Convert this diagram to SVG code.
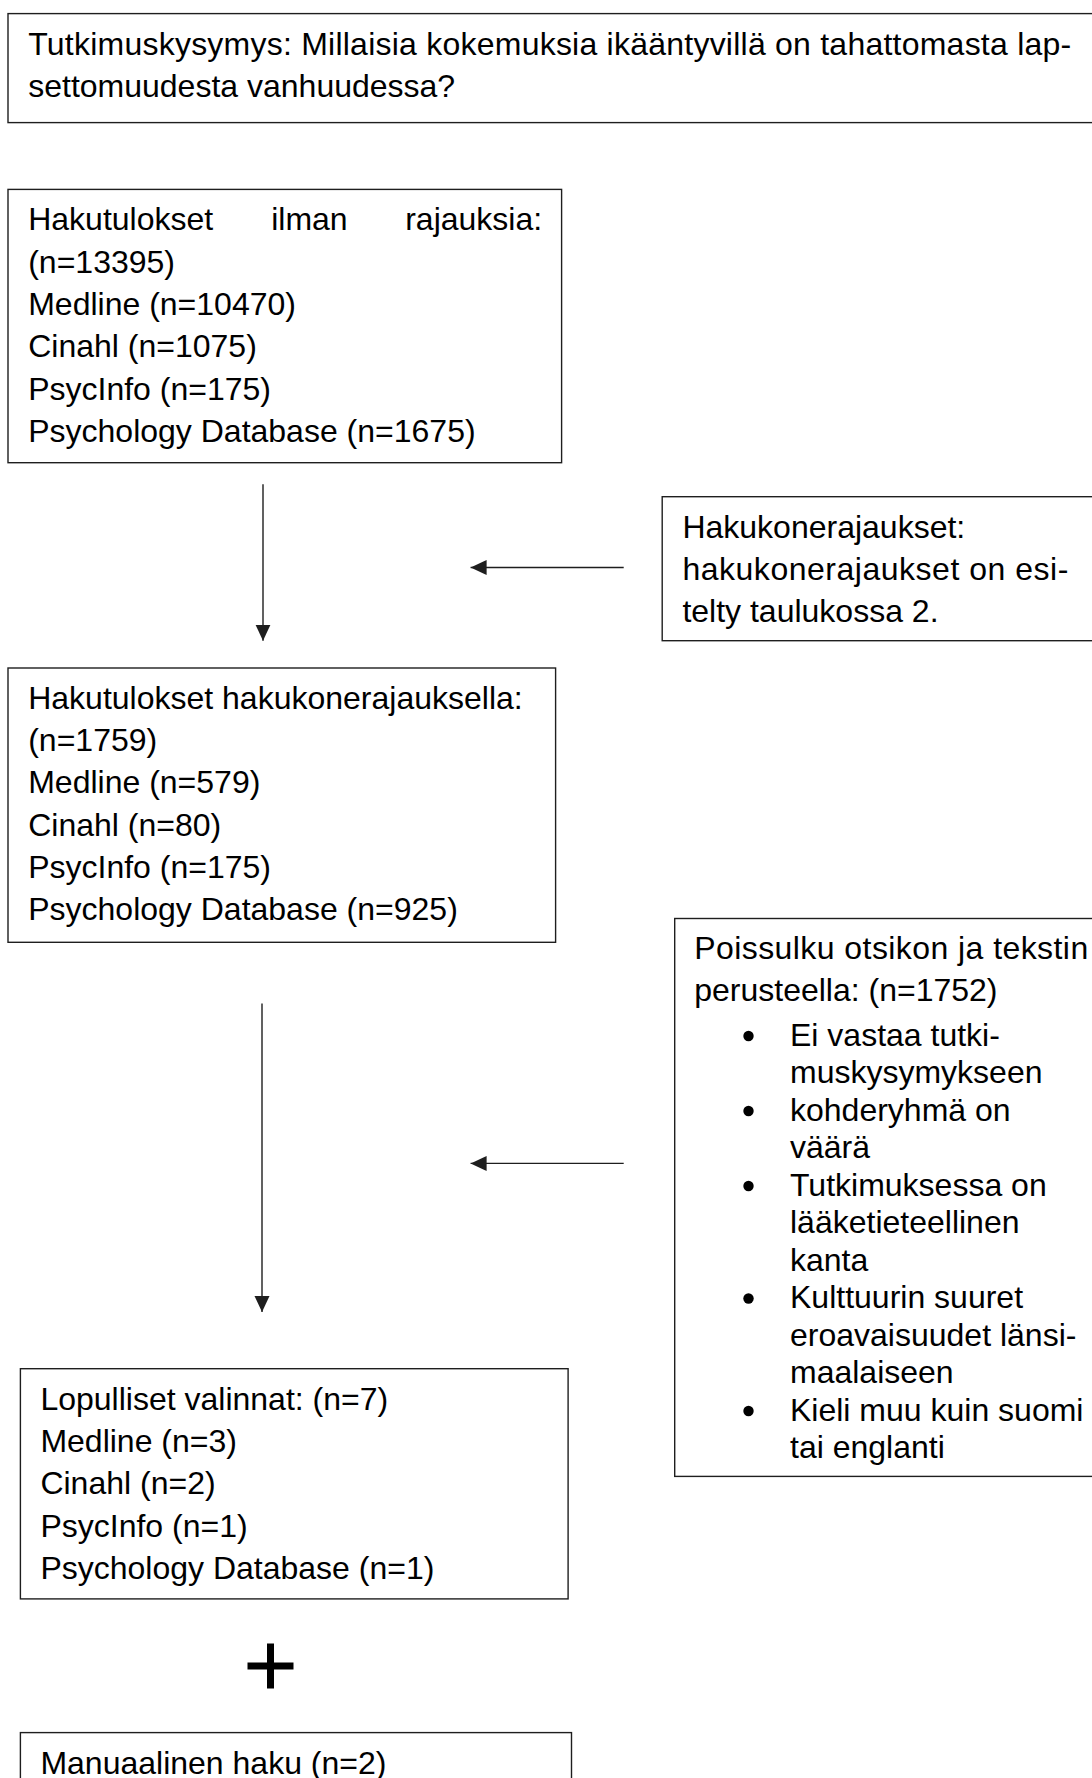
<svg xmlns="http://www.w3.org/2000/svg" width="1092" height="1778" viewBox="0 0 1092 1778">
<style>
  .box { fill: #ffffff; stroke: #1e1e1e; stroke-width: 1.4; }
  .t { font-family: "Liberation Sans", Arial, sans-serif; font-size: 32px; fill: #000000; }
  .conn { stroke: #1e1e1e; stroke-width: 1.4; fill: none; }
</style>
<defs>
  <marker id="ah" markerUnits="userSpaceOnUse" markerWidth="18" markerHeight="16" refX="16" refY="7.5" orient="auto">
    <path d="M0,0 L16,7.5 L0,15 Z" fill="#1e1e1e"/>
  </marker>
</defs>
<rect width="1092" height="1778" fill="#ffffff"/>

<g id="question">
  <rect class="box" x="8" y="13.6" width="1100" height="109"/>
  <text class="t" x="28.2" y="54.6" textLength="1043" lengthAdjust="spacing">Tutkimuskysymys: Millaisia kokemuksia ikääntyvillä on tahattomasta lap-</text>
  <text class="t" x="28.2" y="96.5">settomuudesta vanhuudessa?</text>
</g>

<g id="results-unrestricted">
  <rect class="box" x="8" y="189.4" width="553.6" height="273.3"/>
  <text class="t" y="230.3"><tspan x="28.2">Hakutulokset</tspan><tspan x="271.2">ilman</tspan><tspan x="405.2">rajauksia:</tspan></text>
  <text class="t" x="28.2" y="272.6">(n=13395)</text>
  <text class="t" x="28.2" y="314.9">Medline (n=10470)</text>
  <text class="t" x="28.2" y="357.2">Cinahl (n=1075)</text>
  <text class="t" x="28.2" y="399.5">PsycInfo (n=175)</text>
  <text class="t" x="28.2" y="441.8">Psychology Database (n=1675)</text>
</g>

<g id="engine-limits">
  <rect class="box" x="662.2" y="496.7" width="440" height="144"/>
  <text class="t" x="682.4" y="537.7">Hakukonerajaukset:</text>
  <text class="t" x="682.4" y="580" textLength="386" lengthAdjust="spacing">hakukonerajaukset on esi-</text>
  <text class="t" x="682.4" y="622.3">telty taulukossa 2.</text>
</g>

<g id="results-limited">
  <rect class="box" x="8" y="668" width="547.6" height="274.3"/>
  <text class="t" x="28.2" y="708.8">Hakutulokset hakukonerajauksella:</text>
  <text class="t" x="28.2" y="751.1">(n=1759)</text>
  <text class="t" x="28.2" y="793.4">Medline (n=579)</text>
  <text class="t" x="28.2" y="835.7">Cinahl (n=80)</text>
  <text class="t" x="28.2" y="878">PsycInfo (n=175)</text>
  <text class="t" x="28.2" y="920.3">Psychology Database (n=925)</text>
</g>

<g id="exclusion">
  <rect class="box" x="674.7" y="918.5" width="430" height="557.9"/>
  <text class="t" x="694.2" y="958.5" textLength="394" lengthAdjust="spacing">Poissulku otsikon ja tekstin</text>
  <text class="t" x="694.2" y="1000.5">perusteella: (n=1752)</text>
  <circle cx="748.5" cy="1036" r="5.2" fill="#000000"/>
  <text class="t" x="790" y="1045.5">Ei vastaa tutki-</text>
  <text class="t" x="790" y="1083">muskysymykseen</text>
  <circle cx="748.5" cy="1111" r="5.2" fill="#000000"/>
  <text class="t" x="790" y="1120.5">kohderyhmä on</text>
  <text class="t" x="790" y="1158">väärä</text>
  <circle cx="748.5" cy="1186" r="5.2" fill="#000000"/>
  <text class="t" x="790" y="1195.5">Tutkimuksessa on</text>
  <text class="t" x="790" y="1233">lääketieteellinen</text>
  <text class="t" x="790" y="1270.5">kanta</text>
  <circle cx="748.5" cy="1298.5" r="5.2" fill="#000000"/>
  <text class="t" x="790" y="1308">Kulttuurin suuret</text>
  <text class="t" x="790" y="1345.5">eroavaisuudet länsi-</text>
  <text class="t" x="790" y="1383">maalaiseen</text>
  <circle cx="748.5" cy="1411" r="5.2" fill="#000000"/>
  <text class="t" x="790" y="1420.5">Kieli muu kuin suomi</text>
  <text class="t" x="790" y="1458">tai englanti</text>
</g>

<g id="final-selection">
  <rect class="box" x="20.4" y="1368.7" width="547.7" height="230.2"/>
  <text class="t" x="40.4" y="1409.7">Lopulliset valinnat: (n=7)</text>
  <text class="t" x="40.4" y="1452">Medline (n=3)</text>
  <text class="t" x="40.4" y="1494.3">Cinahl (n=2)</text>
  <text class="t" x="40.4" y="1536.6">PsycInfo (n=1)</text>
  <text class="t" x="40.4" y="1578.9">Psychology Database (n=1)</text>
</g>

<g id="plus">
  <path d="M247.5,1666 H293.5 M270.5,1643.5 V1688.5" stroke="#000000" stroke-width="7" fill="none"/>
</g>

<g id="manual-search">
  <rect class="box" x="20.4" y="1732.6" width="551.1" height="60"/>
  <text class="t" x="40.4" y="1774">Manuaalinen haku (n=2)</text>
</g>

<g id="connectors">
  <line class="conn" x1="263" y1="484.2" x2="263" y2="640.7" marker-end="url(#ah)"/>
  <line class="conn" x1="623.7" y1="567.5" x2="470.6" y2="567.5" marker-end="url(#ah)"/>
  <line class="conn" x1="262" y1="1003.6" x2="262" y2="1312" marker-end="url(#ah)"/>
  <line class="conn" x1="623.7" y1="1163.4" x2="470.6" y2="1163.4" marker-end="url(#ah)"/>
</g>
</svg>
